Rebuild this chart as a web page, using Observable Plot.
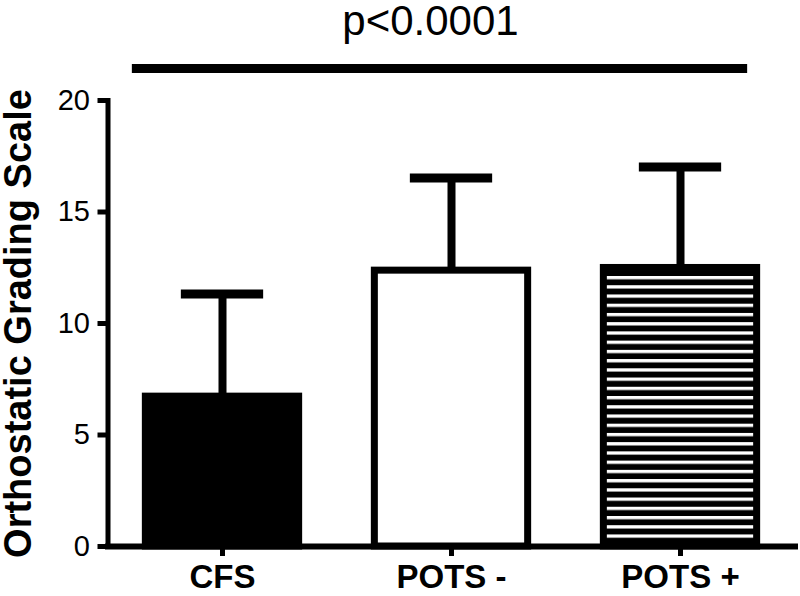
<!DOCTYPE html>
<html>
<head>
<meta charset="utf-8">
<script src="https://cdn.jsdelivr.net/npm/d3@7"></script>
<script src="https://cdn.jsdelivr.net/npm/@observablehq/plot@0.6"></script>
<style>
  html, body { margin: 0; padding: 0; background: white; }
  #chart svg { display: block; }
</style>
</head>
<body>
<div id="chart"></div>
<script>
// ---- data ----
const groups = ["CFS", "POTS -", "POTS +"];
const means = [6.72, 12.37, 12.49];          // bar heights
const upperSD = [11.32, 16.53, 17.02];       // top of error bars
const yTicks = [0, 5, 10, 15, 20];
const yLabel = "Orthostatic Grading Scale";
const sigFrom = "CFS";
const sigTo = "POTS +";
const sigLevel = 21.43;
const sigText = "p<0.0001";

// ---- styles (kept apart from data) ----
const barFills = ["black", "white", "url(#stripes)"];

const data = groups.map((g, i) => ({group: g, mean: means[i], upper: upperSD[i], fill: barFills[i]}));
const sig = [{from: sigFrom, to: sigTo, level: sigLevel, label: sigText}];

const font = "'Liberation Sans', Arial, Helvetica, sans-serif";

const svg = Plot.plot({
  width: 800,
  height: 596,
  marginTop: 100,
  marginBottom: 50,
  marginLeft: 107.5,
  marginRight: 5.5,
  style: {fontFamily: font, background: "white", color: "black", overflow: "visible"},
  x: {domain: groups, paddingInner: 0.3, paddingOuter: 0.15, round: false, axis: null},
  y: {domain: [0, 20], axis: null},
  color: {type: "identity"},
  marks: [
    Plot.ruleX(data, {x: "group", y1: "mean", y2: "upper", stroke: "black", strokeWidth: 8}),
    Plot.tickY(data, {x: "group", y: "upper", stroke: "black", strokeWidth: 9, insetLeft: 39, insetRight: 39}),
    Plot.barY(data, {x: "group", y: "mean", fill: "fill", stroke: "black", strokeWidth: 7, insetLeft: 3.5, insetRight: 3.5}),
    Plot.frame({anchor: "left", stroke: "black", strokeWidth: 5}),
    Plot.frame({anchor: "bottom", stroke: "black", strokeWidth: 6}),
    Plot.axisY({ticks: yTicks, tickSize: 10, tickPadding: 8, strokeWidth: 5, fontSize: 29, label: null, fill: "black"}),
    Plot.axisX({tickSize: 10, tickPadding: 8, strokeWidth: 5, fontSize: 33, fontWeight: "bold", label: null, fill: "black"}),
    Plot.text([yLabel], {frameAnchor: "left", textAnchor: "middle", rotate: -90, dx: -89, fontSize: 38, fontWeight: "bold", fill: "black"}),
    Plot.ruleY(sig, {y: "level", x1: "from", x2: "to", stroke: "black", strokeWidth: 9, insetLeft: -10, insetRight: 13}),
    Plot.text(sig, {y: "level", text: "label", frameAnchor: "middle", dx: -21, dy: -47, fontSize: 42, fill: "black"})
  ]
});

// stripe pattern for the POTS + bar
const defs = d3.select(svg).insert("defs", ":first-child");
const pat = defs.append("pattern")
  .attr("id", "stripes")
  .attr("patternUnits", "userSpaceOnUse")
  .attr("x", 0).attr("y", 276)
  .attr("width", 20).attr("height", 9.23);
pat.append("rect").attr("width", 20).attr("height", 9.23).attr("fill", "black");
pat.append("rect").attr("y", 0).attr("width", 20).attr("height", 3.3).attr("fill", "white");

document.getElementById("chart").appendChild(svg);
</script>
</body>
</html>
